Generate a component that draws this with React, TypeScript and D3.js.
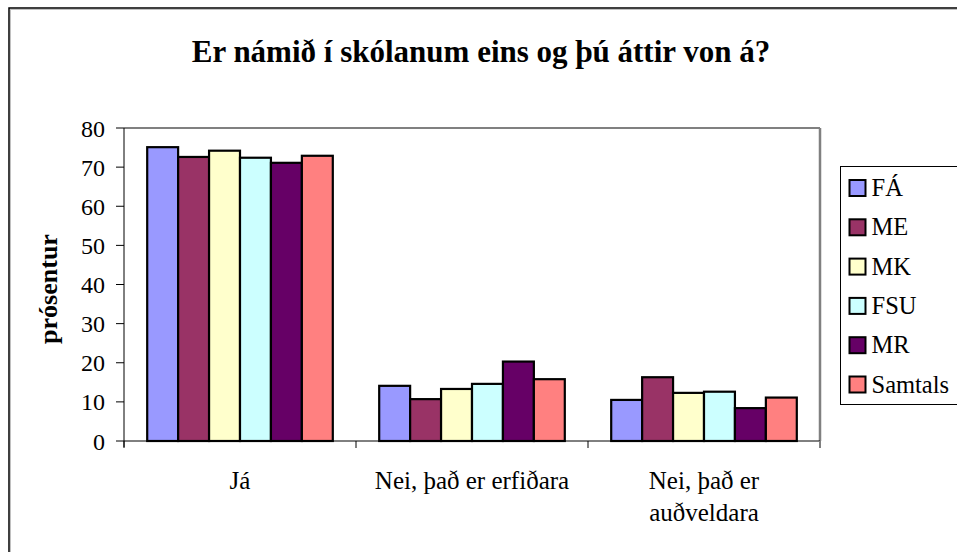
import React from "react";
import * as d3 from "d3";

const categories = ["Já", "Nei, það er erfiðara", "Nei, það er auðveldara"];
const categoryLines = [["Já"], ["Nei, það er erfiðara"], ["Nei, það er", "auðveldara"]];
const seriesNames = ["FÁ", "ME", "MK", "FSU", "MR", "Samtals"];
const seriesColors = ["#9999FF", "#993366", "#FFFFCC", "#CCFFFF", "#660066", "#FF8080"];
const valFA = [75.1, 14.1, 10.5];
const valME = [72.6, 10.7, 16.3];
const valMK = [74.2, 13.3, 12.3];
const valFSU = [72.4, 14.6, 12.6];
const valMR = [71.1, 20.3, 8.4];
const valSamtals = [72.9, 15.8, 11.1];
const yTicks = [0, 10, 20, 30, 40, 50, 60, 70, 80];

const seriesValues = [valFA, valME, valMK, valFSU, valMR, valSamtals];

export default function App() {
  const W = 957, H = 552;
  const left = 124, right = 820, top = 128, bottom = 441;
  const font = "Liberation Serif, Times New Roman, DejaVu Serif, serif";

  const x0 = d3.scaleBand<string>().domain(categories).range([left, right]).paddingInner(0).paddingOuter(0);
  const bw = x0.bandwidth();
  const barW = bw / 7.5;
  const x1 = d3.scaleBand<string>().domain(seriesNames).range([0, barW * 6]);
  const y = d3.scaleLinear().domain([0, 80]).range([bottom, top]);

  const legX = 840.5, legY = 166.5, legH = 238, legRow = 39.3;

  return (
    <svg width={W} height={H} style={{ position: "absolute", left: 0, top: 0, fontFamily: font }}>
      <rect x={0} y={0} width={W} height={H} fill="#fff" />
      <rect x={10.5} y={9.5} width={1000} height={1000} fill="none" stroke="#c0c0c0" strokeWidth={1} />
      <rect x={9} y={8} width={1000} height={1000} fill="none" stroke="#000" strokeWidth={1.5} />
      <text x={481} y={62} textAnchor="middle" fontSize={31} fontWeight="bold" style={{ fontFamily: font }}>
        Er námið í skólanum eins og þú áttir von á?
      </text>
      {/* plot border */}
      <line x1={left} y1={top} x2={right} y2={top} stroke="#808080" strokeWidth={2} />
      <line x1={right} y1={top} x2={right} y2={bottom} stroke="#808080" strokeWidth={2.5} />
      {/* bars */}
      {categories.map((c, ci) =>
        seriesNames.map((s, si) => {
          const v = seriesValues[si][ci];
          const bx = (x0(c) as number) + (bw - barW * 6) / 2 + (x1(s) as number);
          return (
            <rect key={c + s} x={bx} y={y(v)} width={barW} height={bottom - y(v)}
              fill={seriesColors[si]} stroke="#000" strokeWidth={2.2} />
          );
        })
      )}
      {/* axes */}
      <line x1={left} y1={top} x2={left} y2={bottom + 6} stroke="#000" strokeWidth={1} />
      <line x1={left} y1={bottom} x2={right} y2={bottom} stroke="#000" strokeWidth={1} />
      {yTicks.map((t) => (
        <g key={t}>
          <line x1={left - 8} x2={left} y1={y(t)} y2={y(t)} stroke="#000" />
          <text x={105} y={y(t) + 8.5} textAnchor="end" fontSize={24} style={{ fontFamily: font }}>{t}</text>
        </g>
      ))}
      {[...categories.map((c) => x0(c) as number), right].map((xv, i) => (
        <line key={i} x1={xv} x2={xv} y1={bottom} y2={bottom + 7} stroke={i === 3 ? "#808080" : "#000"} strokeWidth={i === 3 ? 2 : 1} />
      ))}
      {categories.map((c, ci) => (
        <text key={c} x={(x0(c) as number) + bw / 2} y={489} textAnchor="middle" fontSize={25} style={{ fontFamily: font }}>
          {categoryLines[ci].map((ln, li) => (
            <tspan key={li} x={(x0(c) as number) + bw / 2} dy={li === 0 ? 0 : 32}>{ln}</tspan>
          ))}
        </text>
      ))}
      <text transform={`translate(57,289) rotate(-90)`} textAnchor="middle" fontSize={26} fontWeight="bold" style={{ fontFamily: font }}>
        prósentur
      </text>
      {/* legend */}
      <rect x={legX} y={legY} width={200} height={legH} fill="#fff" stroke="#000" strokeWidth={1} />
      {seriesNames.map((s, i) => {
        const cy = 188 + i * legRow;
        return (
          <g key={s}>
            <rect x={legX + 9} y={cy - 8} width={16} height={16} fill={seriesColors[i]} stroke="#000" strokeWidth={2} />
            <text x={legX + 31} y={cy + 8} fontSize={24.5} style={{ fontFamily: font }}>{s}</text>
          </g>
        );
      })}
    </svg>
  );
}
